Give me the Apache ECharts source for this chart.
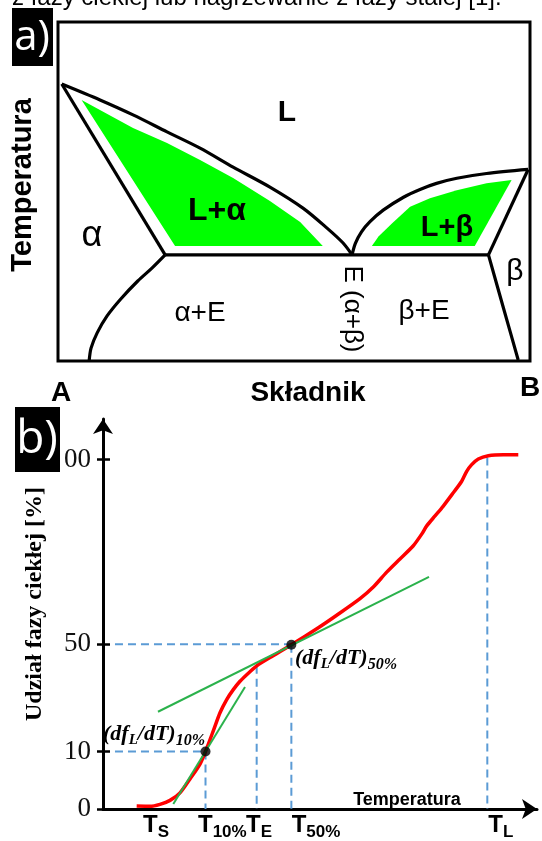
<!DOCTYPE html>
<html><head><meta charset="utf-8">
<script src="https://cdn.jsdelivr.net/npm/echarts@6/dist/echarts.min.js"></script>
<style>html,body{margin:0;padding:0;background:#fff}#c{width:542px;height:841px}</style>
</head><body><div id="c"></div>
<script>
// ---------- Panel a: phase diagram (composition 0..100 = A..B, schematic temperature 0..100) ----------
const liquidusAlpha = [[0.8,81.7],[8.9,77.0],[15.9,72.6],[23.1,67.6],[30.1,62.8],[37.1,57.2],[44.9,51.3],[51.9,45.1],[57.0,39.2],[60.4,34.8],[62.3,31.3]];
const liquidusBeta  = [[62.3,31.3],[63.0,34.7],[64.3,38.1],[66.1,41.1],[68.9,44.5],[73.2,48.3],[76.7,50.6],[80.2,52.4],[84.5,53.9],[90.8,55.3],[99.6,56.5]];
const solidusAlpha  = [[0.8,81.7],[22.7,31.3]];
const solidusBeta   = [[99.6,56.5],[91.2,31.3]];
const eutecticLine  = [[22.7,31.3],[91.2,31.3]];
const solvusAlpha   = [[22.7,31.3],[19.9,27.4],[16.9,23.6],[13.3,18.3],[10.4,13.3],[8.3,8.3],[7.0,3.8],[6.6,0]];
const solvusBeta    = [[91.2,31.3],[94.3,16.0],[97.5,0.3]];
const regionLAlpha  = [[5.0,77.0],[15.9,68.7],[23.1,64.3],[30.1,59.3],[37.1,54.0],[44.9,47.2],[51.3,41.0],[56.1,33.9],[24.8,33.9]];
const regionLBeta   = [[66.5,33.9],[67.9,36.7],[70.8,40.6],[74.6,45.5],[78.8,48.0],[84.5,50.4],[90.8,52.4],[96.1,53.4],[88.3,33.9]];

// ---------- Panel b: liquid fraction vs temperature (schematic axis units) ----------
const fracCurve = [[7.76,0.85],[10.83,0.77],[13.13,1.34],[15.44,2.47],[17.74,4.63],[20.05,8.61],[22.35,12.87],[23.62,16.5],
  [25.41,22.36],[26.96,27.56],[28.50,31.34],[30.02,34.18],[31.57,36.56],[33.11,38.44],[35.41,40.99],[38.48,43.38],[43.4,47.0],
  [49.61,51.90],[53.85,55.48],[59.22,60.23],[62.28,63.55],[65.37,67.81],[68.43,71.59],[71.50,75.37],[73.43,78.69],[74.59,81.05],
  [76.50,83.89],[78.41,86.73],[80.71,90.54],[82.65,93.84],[83.80,96.68],[84.95,98.58],[86.47,100.20],[88.78,101.14],[92.24,101.42],[95.69,101.42]];
const tangent10 = [[16.2,1.42],[32.72,34.94]];
const tangent50 = [[12.67,27.84],[75.12,66.48]];
const keyPoints = [[23.62,16.48],[43.4,47.0]];
const guideH10 = [[2.76,16.48],[23.62,16.48]];
const guideH50 = [[2.76,47.16],[43.4,47.16]];
const guideV10 = [[23.62,16.48],[23.62,0]];
const guideVE  = [[35.41,40.99],[35.41,0]];
const guideV50 = [[43.4,47.0],[43.4,0]];
const guideVL  = [[88.55,100.6],[88.55,0]];
const yTickPos = [0,16.48,47.16,100];
const yTickLabels = ['0','10','50','00'];
const xLabelPos = [9.22,21.89,32.95,43.48,88.78];
const xLabelSubs = ['S','10%','E','50%','L'];

const SANS = '"Liberation Sans", Arial, sans-serif';
const SERIF = '"Liberation Serif", "Times New Roman", serif';

const chart = echarts.init(document.getElementById('c'), null, {renderer:'canvas'});

function blackLine(data, smooth){
  return {type:'line', xAxisIndex:0, yAxisIndex:0, data:data, symbol:'none', smooth:smooth||false, silent:true,
    lineStyle:{color:'#000', width:3.2}, z:5};
}
function dashLine(data){
  return {type:'line', xAxisIndex:1, yAxisIndex:1, data:data, symbol:'none', silent:true,
    lineStyle:{color:'#5b9bd5', width:2, type:[8,5]}, z:2};
}
const regions = [regionLAlpha, regionLBeta];

function txt(x, y, text, font, extra){
  return Object.assign({type:'text', x:x, y:y, z:50, silent:true,
    style:{text:text, font:font, fill:'#000', align:'center', verticalAlign:'middle', textAlign:'center', textVerticalAlign:'middle'}}, extra||{});
}
const annRich = {
  a:{fontFamily:SERIF, fontStyle:'italic', fontWeight:'bold', fontSize:22, lineHeight:24, verticalAlign:'top', fill:'#000', color:'#000'},
  b:{fontFamily:SERIF, fontStyle:'italic', fontWeight:'bold', fontSize:15, lineHeight:16, padding:[10,0,0,0], verticalAlign:'top', fill:'#000', color:'#000'},
  c:{fontFamily:SERIF, fontStyle:'italic', fontWeight:'bold', fontSize:16, lineHeight:16, padding:[10,0,0,0], verticalAlign:'top', fill:'#000', color:'#000'}
};

const option = {
  animation:false,
  backgroundColor:'#fff',
  grid:[
    {left:58, right:12, top:22, bottom:480, show:true, borderColor:'#000', borderWidth:3, backgroundColor:'transparent'},
    {left:103, right:5, top:419, bottom:29}
  ],
  xAxis:[
    {gridIndex:0, type:'value', min:0, max:100, show:false},
    {gridIndex:1, type:'value', min:0, max:100, splitLine:{show:false},
      axisLine:{show:true, symbol:['none','arrow'], symbolSize:[15,15], lineStyle:{color:'#000', width:3}},
      axisTick:{show:false},
      axisLabel:{show:true, customValues:xLabelPos, align:'left', margin:4,
        formatter:function(v){ const i = xLabelPos.indexOf(v); return '{t|T}{s|' + (i>=0?xLabelSubs[i]:'') + '}'; },
        rich:{
          t:{fontFamily:SANS, fontWeight:'bold', fontSize:24, color:'#000', lineHeight:24, verticalAlign:'top'},
          s:{fontFamily:SANS, fontWeight:'bold', fontSize:17, color:'#000', lineHeight:16, padding:[11,0,0,0], verticalAlign:'top'}
        }}}
  ],
  yAxis:[
    {gridIndex:0, type:'value', min:0, max:100, show:false},
    {gridIndex:1, type:'value', position:'left', min:0, max:111.65, splitLine:{show:false},
      axisLine:{show:true, symbol:['none','arrow'], symbolSize:[15,15], lineStyle:{color:'#000', width:3}},
      axisTick:{show:true, customValues:yTickPos, length:6, lineStyle:{color:'#000', width:2.5}},
      axisLabel:{show:true, customValues:yTickPos, margin:12, fontFamily:SERIF, fontSize:27, color:'#111',
        formatter:function(v){ const i = yTickPos.indexOf(v); return i>=0 ? yTickLabels[i] : ''; }}},
    {gridIndex:1, type:'value', position:'left', offset:0, min:0, max:111.65, splitLine:{show:false},
      axisLine:{show:false}, axisLabel:{show:false},
      axisTick:{show:true, inside:true, customValues:yTickPos, length:7, lineStyle:{color:'#000', width:2.5}}}
  ],
  series:[
    {type:'custom', xAxisIndex:0, yAxisIndex:0, data:[[50,50],[50,50]], silent:true, clip:false, z:1,
      renderItem:function(params, api){
        const pts = regions[params.dataIndex].map(function(p){ return api.coord(p); });
        return {type:'polygon', shape:{points:pts}, style:{fill:'#00ff00'}};
      }},
    blackLine(liquidusAlpha, 0.3),
    blackLine(liquidusBeta, 0.3),
    blackLine(solidusAlpha),
    blackLine(solidusBeta),
    blackLine(eutecticLine),
    blackLine(solvusAlpha, 0.3),
    blackLine(solvusBeta, 0.2),
    dashLine(guideH10), dashLine(guideH50), dashLine(guideV10), dashLine(guideVE), dashLine(guideV50), dashLine(guideVL),
    {type:'line', xAxisIndex:1, yAxisIndex:1, data:fracCurve, symbol:'none', smooth:0.25, silent:true,
      lineStyle:{color:'#ff0000', width:3.5}, z:3},
    {type:'line', xAxisIndex:1, yAxisIndex:1, data:tangent10, symbol:'none', silent:true, lineStyle:{color:'#2bb24c', width:2}, z:4},
    {type:'line', xAxisIndex:1, yAxisIndex:1, data:tangent50, symbol:'none', silent:true, lineStyle:{color:'#2bb24c', width:2}, z:4},
    {type:'scatter', xAxisIndex:1, yAxisIndex:1, data:keyPoints, symbolSize:10, itemStyle:{color:'#000'}, silent:true, z:6}
  ],
  graphic:[
    {type:'text', x:12, y:-2, z:50, silent:true, style:{text:'z fazy ciekłej lub nagrzewanie z fazy stałej [1].', font:'24px '+SANS, fill:'#000', align:'left', textAlign:'left', verticalAlign:'middle', textVerticalAlign:'middle'}},
    {type:'rect', z:60, shape:{x:12, y:8, width:41, height:58}, style:{fill:'#000'}},
    txt(32, 38, 'a)', '', {z:61, style:{text:'a)', font:'42px "Open Sans", sans-serif', fill:'#fff', align:'center', verticalAlign:'middle', textAlign:'center', textVerticalAlign:'middle'}}),
    {type:'rect', z:60, shape:{x:15, y:407, width:45, height:65}, style:{fill:'#000'}},
    txt(37, 440, 'b)', '', {z:61, style:{text:'b)', font:'46px "Open Sans", sans-serif', fill:'#fff', align:'center', verticalAlign:'middle', textAlign:'center', textVerticalAlign:'middle'}}),
    txt(287, 113, 'L', 'bold 30px '+SANS),
    txt(217, 211, 'L+α', 'bold 32px '+SANS),
    txt(447, 228, 'L+β', 'bold 29px '+SANS),
    txt(92, 236, 'α', '36px '+SANS),
    txt(200, 313, 'α+E', '28px '+SANS),
    txt(424, 311, 'β+E', '28px '+SANS),
    txt(515, 272, 'β', '30px '+SANS),
    txt(352, 309, 'E (α+β)', '26px '+SANS, {rotation:-Math.PI/2}),
    txt(23, 185, 'Temperatura', 'bold 29px '+SANS, {rotation:Math.PI/2}),
    txt(61, 393, 'A', 'bold 28px '+SANS),
    txt(308, 393, 'Składnik', 'bold 28px '+SANS),
    txt(530, 388, 'B', 'bold 28px '+SANS),
    txt(35, 604, 'Udział fazy ciekłej [%]', 'bold 24px '+SERIF, {rotation:Math.PI/2}),
    txt(407, 800, 'Temperatura', 'bold 18px '+SANS),
    {type:'text', x:103, y:723, z:50, silent:true, style:{text:'{a|(df}{b|L}{a|/dT)}{c|10%}', align:'left', textAlign:'left', verticalAlign:'top', textVerticalAlign:'top', rich:annRich}},
    {type:'text', x:295, y:647, z:50, silent:true, style:{text:'{a|(df}{b|L}{a|/dT)}{c|50%}', align:'left', textAlign:'left', verticalAlign:'top', textVerticalAlign:'top', rich:annRich}}
  ]
};
chart.setOption(option);
</script></body></html>
